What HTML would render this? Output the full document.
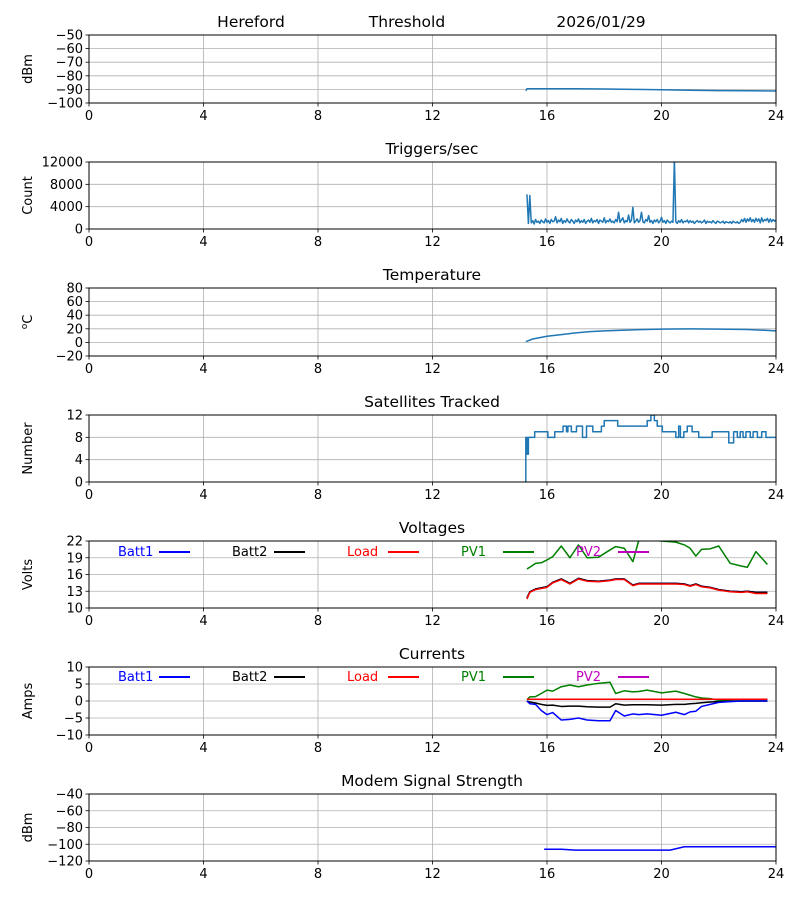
<!DOCTYPE html>
<html><head><meta charset="utf-8"><style>
body{margin:0;background:#fff}
svg{display:block;font-family:"DejaVu Sans","Liberation Sans",sans-serif}
</style></head><body>
<svg id="c" width="800" height="900" xmlns="http://www.w3.org/2000/svg"></svg>
<script>
const xTicks=[0,4,8,12,16,20,24];
const thrTime=[15.26,15.3,16,17,18,19,20,21,22,23,24];
const thrVal=[-91,-89.5,-89.5,-89.5,-89.7,-90,-90.3,-90.6,-90.9,-91,-91.2];
const trigStart=15.3, trigStep=0.05;
const trigVal=[6200,1000,6000,1100,1500,900,1700,1200,1400,1000,
1600,1300,1100,1800,1200,1500,1000,1700,1300,1400,
2200,1100,1600,1300,1900,1000,1500,1200,1800,1300,
1100,1700,1400,1000,1600,1300,1800,1100,1500,1200,
1700,1000,1400,1600,1200,1900,1100,1500,1300,1700,
1000,1600,1400,1200,2000,1100,1500,1300,1800,1200,
1400,1100,1700,1300,3000,1200,1600,2000,1100,1500,
1300,2500,1200,1600,3900,1100,1400,1800,1200,1500,
3000,1300,1100,1700,1400,2400,1200,1500,1000,1600,
1300,1700,1100,1400,2100,1200,1500,1000,1600,1300,
1100,1400,1200,12500,1300,1000,1500,1200,1700,1100,
1400,1300,1600,1100,1500,1200,1400,1000,1300,1500,
1200,1400,1100,1300,1600,1000,1400,1200,1300,1100,
1500,1200,1000,1400,1300,1100,1200,1400,1000,1300,
1200,1100,1300,1000,1400,1200,1100,1300,1000,1200,
1700,1300,1900,1200,1800,1400,2000,1300,1700,1200,
1900,1400,1800,1100,2000,1300,1700,1500,1900,1200,
1800,1300,1700,1400,1600];
const tempTime=[15.26,15.5,16,16.5,17,17.5,18,19,20,21,22,23,24];
const tempVal=[1,5,9,11.5,14,15.8,17,18.5,19.5,19.8,19.5,19,17];
const satTime=[15.25,15.26,15.3,15.35,15.57,16.03,16.27,16.56,16.68,16.73,16.85,17.03,17.24,17.38,17.6,17.9,18.0,18.47,19.5,19.63,19.75,19.85,20.03,20.5,20.6,20.66,20.78,20.9,21.07,21.3,21.77,22.35,22.52,22.65,22.75,22.85,22.95,23.1,23.2,23.35,23.5,23.65,24];
const satVal=[0,8,5,8,9,8,9,10,9,10,9,10,8,10,9,10,11,10,11,12,11,10,9,8,10,8,9,10,9,8,9,7,9,8,9,8,9,8,9,8,9,8,8];
const pwrTime=[15.3,15.4,15.6,15.8,16.0,16.2,16.5,16.8,17.1,17.4,17.8,18.2,18.4,18.7,19.0,19.2,19.5,20.0,20.5,20.8,21.0,21.2,21.4,21.7,22.0,22.4,22.8,23.0,23.3,23.7];
const loadV=[11.6,12.8,13.3,13.5,13.7,14.5,15.1,14.3,15.2,14.8,14.7,14.9,15.1,15.1,14.0,14.3,14.3,14.3,14.3,14.2,13.9,14.2,13.8,13.6,13.2,12.9,12.8,12.9,12.6,12.6];
const batt1V=[11.8,12.9,13.4,13.6,13.8,14.6,15.2,14.4,15.3,14.9,14.8,15.0,15.2,15.2,14.1,14.4,14.4,14.4,14.4,14.3,14.0,14.3,13.9,13.7,13.3,13.0,12.9,13.0,12.8,12.8];
const pv1V=[17,17.3,18,18.1,18.6,19.2,21.1,19.0,21.3,19.0,19.1,20.4,21,20.7,18.3,22,22.2,22,21.8,21.3,20.7,19.3,20.5,20.6,21.1,18,17.5,17.3,20.1,17.8];
const batt1A=[0,-0.8,-1,-2.8,-4,-3.4,-5.6,-5.4,-5,-5.6,-5.8,-5.8,-2.8,-4.4,-3.8,-4,-3.8,-4.2,-3.3,-4,-3.2,-3,-1.6,-1,-0.4,-0.2,0,0,0,0];
const batt2A=[0,-0.3,-0.6,-1,-1.3,-1.2,-1.6,-1.5,-1.5,-1.7,-1.8,-1.8,-0.8,-1.2,-1.1,-1.1,-1.1,-1.2,-1,-1,-0.8,-0.7,-0.5,-0.3,-0.2,0,0,0,0,0];
const loadA=[0.5,0.5,0.5,0.5,0.5,0.5,0.5,0.5,0.5,0.5,0.5,0.5,0.5,0.5,0.5,0.5,0.5,0.5,0.5,0.5,0.5,0.5,0.5,0.5,0.5,0.5,0.5,0.5,0.5,0.5];
const pv1A=[0.4,1.2,1.3,2.2,3.2,2.9,4.2,4.7,4.2,4.7,5.2,5.5,2.2,3,2.7,2.8,3.2,2.4,2.9,2.2,1.7,1.2,0.9,0.7,0.2,0,0,0,0,0];
const modemTime=[15.9,16.5,17,18,19,20,20.3,20.8,22,24];
const modemVal=[-106,-106,-107,-107,-107,-107,-107,-103,-103,-103];

const svg=document.getElementById('c');const NS='http://www.w3.org/2000/svg';
function el(t,a,p){const e=document.createElementNS(NS,t);for(const k in a)e.setAttribute(k,a[k]);(p||svg).appendChild(e);return e;}
const X0=89,X1=776;
function sx(h){return X0+(h/24)*(X1-X0);}
function panel(name,top,bot,ymin,ymax,yticks,ylabel,title){
  const g=el('g',{});
  
  
  const sy=v=>bot-(v-ymin)/(ymax-ymin)*(bot-top);
  xTicks.forEach(t=>{el('line',{x1:sx(t),x2:sx(t),y1:top,y2:bot,stroke:'#b0b0b0','stroke-width':0.8},g);
    el('line',{x1:sx(t),x2:sx(t),y1:bot,y2:bot+3.5,stroke:'#000','stroke-width':0.8},g);
    const tx=el('text',{x:sx(t),y:bot+17,'font-size':13,'text-anchor':'middle'},g);tx.textContent=t;
    });
  yticks.forEach(t=>{const y=sy(t);el('line',{x1:X0,x2:X1,y1:y,y2:y,stroke:'#b0b0b0','stroke-width':0.8},g);
    el('line',{x1:X0-3.5,x2:X0,y1:y,y2:y,stroke:'#000','stroke-width':0.8},g);
    const tx=el('text',{x:X0-6,y:y+4.5,'font-size':13,'text-anchor':'end'},g);tx.textContent=t.toString().replace('-','\u2212');
    });
  const yl=el('text',{x:0,y:0,'font-size':13,'text-anchor':'middle',transform:`translate(32,${(top+bot)/2}) rotate(-90)`},g);
  yl.innerHTML=ylabel;
  
  if(title){const tt=el('text',{x:432,y:top-8,'font-size':15.5,'text-anchor':'middle'},g);tt.textContent=title;
    }
  const clip='clip'+name;const cp=el('clipPath',{id:clip},g);el('rect',{x:X0,y:top,width:X1-X0,height:bot-top},cp);
  const plot=el('g',{'clip-path':`url(#${clip})`},g);
  el('rect',{x:X0,y:top,width:X1-X0,height:bot-top,fill:'none',stroke:'#000','stroke-width':1},g);
  return {g,plot,sy};
}
function line(p,xs,ys,color,name,step){
  let d='';xs.forEach((x,i)=>{const px=sx(x),py=p.sy(ys[i]);
    if(i===0)d='M'+px+','+py;else{ if(step)d+=' L'+px+','+p.sy(ys[i-1]);d+=' L'+px+','+py;}});
  const e=el('path',{d,fill:'none',stroke:color,'stroke-width':1.5,'stroke-linejoin':'round'},p.plot);
  
}
function legend(p,y){
  const items=[['Batt1','#0000ff',118,159],['Batt2','#000',232,274],['Load','#ff0000',347,388],['PV1','#008000',461,503],['PV2','#bf00bf',576,618]];
  items.forEach(it=>{const t=el('text',{x:it[2],y:y+5,'font-size':13,fill:it[1]},p.g);t.textContent=it[0];
    
    const l=el('line',{x1:it[3],x2:it[3]+31,y1:y+1,y2:y+1,stroke:it[1],'stroke-width':2},p.g);
    });
}
const C='#1f77b4';
[['Hereford',251],['Threshold',407],['2026/01/29',601]].forEach(a=>{const t=el('text',{x:a[1],y:27,'font-size':15.5,'text-anchor':'middle'});t.textContent=a[0];
  });
let p=panel('threshold',35,103,-100,-50,[-100,-90,-80,-70,-60,-50],'dBm',null);
line(p,thrTime,thrVal,C,'threshold-line');
p=panel('triggers',162,229,0,12000,[0,4000,8000,12000],'Count','Triggers/sec');
line(p,trigVal.map((v,i)=>trigStart+i*trigStep),trigVal,C,'triggers-line');
p=panel('temperature',288,356,-20,80,[-20,0,20,40,60,80],'<tspan baseline-shift="super" font-size="9">o</tspan>C','Temperature');
line(p,tempTime,tempVal,C,'temperature-line');
p=panel('satellites',415,482,0,12,[0,4,8,12],'Number','Satellites Tracked');
line(p,satTime,satVal,C,'satellites-line',true);
p=panel('voltages',541,608,10,22,[10,13,16,19,22],'Volts','Voltages');
line(p,pwrTime,batt1V,'#0000ff','batt1-voltage-line');line(p,pwrTime,batt1V,'#000','batt2-voltage-line');
line(p,pwrTime,loadV,'#ff0000','load-voltage-line');line(p,pwrTime,pv1V,'#008000','pv1-voltage-line');
legend(p,551);
p=panel('currents',667,735,-10,10,[-10,-5,0,5,10],'Amps','Currents');
line(p,pwrTime,pv1A,'#008000','pv1-current-line');line(p,pwrTime,batt2A,'#000','batt2-current-line');
line(p,pwrTime,batt1A,'#0000ff','batt1-current-line');line(p,pwrTime,loadA,'#bf00bf','pv2-current-line');
line(p,pwrTime,loadA,'#ff0000','load-current-line');
legend(p,676);
p=panel('modem',794,861,-120,-40,[-120,-100,-80,-60,-40],'dBm','Modem Signal Strength');
line(p,modemTime,modemVal,'#0000ff','modem-signal-line');
</script>
</body></html>
